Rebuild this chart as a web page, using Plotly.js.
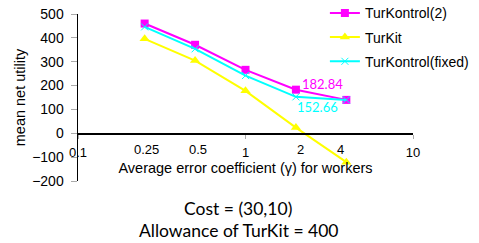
<!DOCTYPE html>
<html>
<head>
<meta charset="utf-8">
<script src="https://cdn.plot.ly/plotly-3.0.1.min.js"></script>
<style>html,body{margin:0;padding:0;background:#fff;}#chart{width:479px;height:243px;}</style>
</head>
<body>
<div id="chart"></div>
<script>
// ---- data ----
const errorCoef = [0.25, 0.5, 1, 2, 4];
const turKontrol2 = [460, 371, 266, 182.84, 140];
const turKit = [396, 305, 178, 24, -121];
const turKontrolFixed = [446, 354, 242, 152.66, 140];
const seriesNames = ['TurKontrol(2)', 'TurKit', 'TurKontrol(fixed)'];
const majorTickVals = [0.1, 1, 10];
const majorTickText = ['0.1', '1', '10'];
const minorTickVals = [0.25, 0.5, 2, 4];
const minorTickText = ['0.25', '0.5', '2', '4'];
const yTickVals = [-200, -100, 0, 100, 200, 300, 400, 500];
const captionLines = ['Cost = (30,10)', 'Allowance of TurKit = 400'];

const MAG = '#FF00FF', YEL = '#FFFF00', CYA = '#00FFFF';
const ARIAL = 'Arial, "Liberation Sans", sans-serif';
const CAL = 'Lato, "Open Sans", sans-serif';

const traces = [
  {x: errorCoef, y: turKontrol2, name: seriesNames[0], legendgroup: 'a', mode: 'lines+markers',
   line: {color: MAG, width: 2}, marker: {symbol: 'square', size: 8, color: MAG}},
  {x: errorCoef, y: turKit, name: seriesNames[1], legendgroup: 'b', mode: 'lines+markers',
   line: {color: YEL, width: 2}, marker: {symbol: 'triangle-up', size: 9, color: YEL}},
  {x: errorCoef, y: turKontrolFixed, name: seriesNames[2], legendgroup: 'c', mode: 'lines+markers',
   line: {color: CYA, width: 2}, marker: {symbol: 'x-thin', size: 7, color: CYA, line: {color: CYA, width: 1}}}
];

const minorShifts = [2, 3, 5, -6];
const annotations = minorTickVals.map((v, i) => ({
  xref: 'x', yref: 'y', x: Math.log10(v), y: -70, text: minorTickText[i], showarrow: false,
  xshift: minorShifts[i], font: {family: ARIAL, size: 13, color: '#000'}
}));
annotations.push({xref: 'x', yref: 'y', x: Math.log10(errorCoef[3]), y: turKontrol2[3],
  text: String(turKontrol2[3]), showarrow: false, xshift: 27, yshift: 6,
  font: {family: CAL, size: 13, color: MAG}});
annotations.push({xref: 'x', yref: 'y', x: Math.log10(errorCoef[3]), y: turKontrolFixed[3],
  text: String(turKontrolFixed[3]), showarrow: false, xshift: 22, yshift: -10,
  font: {family: CAL, size: 13, color: CYA}});
annotations.push({xref: 'paper', yref: 'paper', x: 0.478, y: -0.1617, text: captionLines[0],
  showarrow: false, yanchor: 'middle', font: {family: CAL, size: 17.5, color: '#000'}});
annotations.push({xref: 'paper', yref: 'paper', x: 0.478, y: -0.299, text: captionLines[1],
  showarrow: false, yanchor: 'middle', font: {family: CAL, size: 17.5, color: '#000'}});

const layout = {
  width: 479, height: 243,
  margin: {l: 78, r: 66, t: 14, b: 62, pad: 0, autoexpand: false},
  paper_bgcolor: '#fff', plot_bgcolor: '#fff',
  showlegend: true,
  font: {family: ARIAL, size: 14, color: '#000'},
  xaxis: {
    type: 'log', range: [-1, 1], anchor: 'free', position: 200 / 700, automargin: false,
    showline: true, linecolor: '#000', linewidth: 1.5, showgrid: false, zeroline: false,
    tickmode: 'array', tickvals: majorTickVals, ticktext: majorTickText,
    ticks: 'outside', ticklen: 4, tickcolor: '#aaa', tickwidth: 1,
    tickfont: {family: ARIAL, size: 13, color: '#000'}, ticklabelstandoff: 3,
    title: {text: 'Average error coefficient (γ) for workers', font: {family: ARIAL, size: 14.5, color: '#000'}, standoff: 3}
  },
  yaxis: {
    range: [-200, 500], showline: true, linecolor: '#000', linewidth: 1.5, automargin: false,
    showgrid: false, zeroline: false, tickmode: 'array', tickvals: yTickVals,
    ticks: 'outside', ticklen: 6, tickcolor: '#aaa', tickwidth: 1,
    tickfont: {family: ARIAL, size: 14, color: '#000'}, ticklabelstandoff: 4,
    title: {text: 'mean net utility', font: {family: ARIAL, size: 14.5, color: '#000'}, standoff: 3}
  },
  legend: {x: 0.737, xanchor: 'left', y: 1.10, yanchor: 'top', bgcolor: 'rgba(0,0,0,0)',
    font: {family: ARIAL, size: 14, color: '#000'}, tracegroupgap: 3},
  annotations: annotations
};

Plotly.newPlot('chart', traces, layout, {displayModeBar: false, staticPlot: true});
</script>
</body>
</html>
